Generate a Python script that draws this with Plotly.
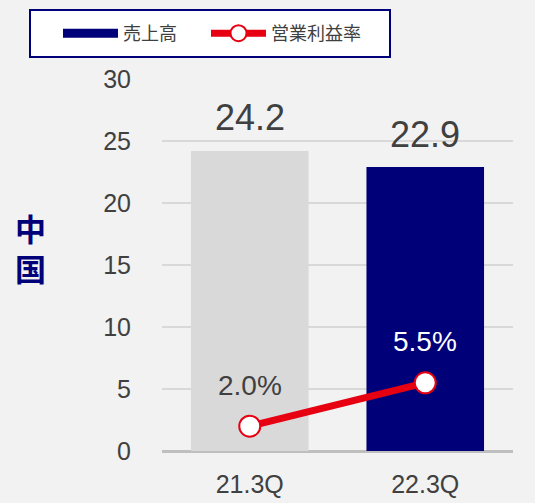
import plotly.graph_objects as go

quarters = ["21.3Q", "22.3Q"]
sales = [24.2, 22.9]
margin_pct = [2.0, 5.5]
bar_colors = ["#d9d9d9", "#000078"]
margin_label_colors = ["#404040", "#ffffff"]

FONT = "Liberation Sans, Arial, Noto Sans CJK JP, sans-serif"
NAVY = "#000078"
RED = "#e60012"

W, H = 535, 503
L, R, T, B = 162, 22, 79, 52
PW, PH = W - L - R, H - T - B


def px_x(px):
    return (px - L) / PW


def px_y(py):
    return (H - B - py) / PH


fig = go.Figure()

fig.add_trace(go.Bar(
    x=quarters, y=sales,
    marker=dict(color=bar_colors, line=dict(width=0)),
    width=0.67, showlegend=False, hoverinfo="skip"))

# legend stand-in for the bar series (wide navy swatch)
fig.add_trace(go.Scatter(
    x=[None], y=[None], mode="lines", name="売上高", legendwidth=78,
    line=dict(color=NAVY, width=9)))

fig.add_trace(go.Scatter(
    x=quarters, y=margin_pct, mode="lines+markers", name="営業利益率",
    legendwidth=116,
    line=dict(color=RED, width=7),
    marker=dict(size=21, color="white", line=dict(color=RED, width=2))))

for q, v in zip(quarters, sales):
    fig.add_annotation(x=q, y=v, text=f"{v:.1f}", showarrow=False,
                       yshift=33, font=dict(size=36, color="#404040"))

for q, v, c in zip(quarters, margin_pct, margin_label_colors):
    fig.add_annotation(x=q, y=v, text=f"{v:.1f}%", showarrow=False,
                       yshift=41, font=dict(size=28, color=c))

fig.add_annotation(xref="paper", yref="paper", x=px_x(30), y=px_y(247),
                   xanchor="center", yanchor="middle",
                   text="<b>中<br>国</b>", showarrow=False,
                   font=dict(size=31, color=NAVY, family="Noto Sans CJK JP"))

# legend frame
fig.add_shape(type="rect", xref="paper", yref="paper",
              x0=px_x(30), x1=px_x(390), y0=px_y(57), y1=px_y(10),
              fillcolor="white", line=dict(color=NAVY, width=2), layer="above")

fig.update_layout(
    width=W, height=H,
    margin=dict(l=L, r=R, t=T, b=B, autoexpand=False),
    paper_bgcolor="#f2f2f2", plot_bgcolor="#f2f2f2",
    font=dict(family=FONT, color="#404040"),
    legend=dict(orientation="h", x=px_x(58), y=px_y(33.5),
                xanchor="left", yanchor="middle",
                bgcolor="rgba(0,0,0,0)", borderwidth=0,
                itemwidth=55, font=dict(size=18, color="#404040")),
    xaxis=dict(showgrid=False, ticks="", tickfont=dict(size=25),
               showline=False, ticklabelstandoff=16),
    yaxis=dict(range=[0, 30], dtick=5, gridcolor="#d9d9d9", gridwidth=1.5,
               zeroline=True, zerolinecolor="#bfbfbf", zerolinewidth=3,
               tickfont=dict(size=25), ticklabelstandoff=30),
)

fig.write_html("out.html", config={"displayModeBar": False},
               post_script="document.body.style.margin='0';")
